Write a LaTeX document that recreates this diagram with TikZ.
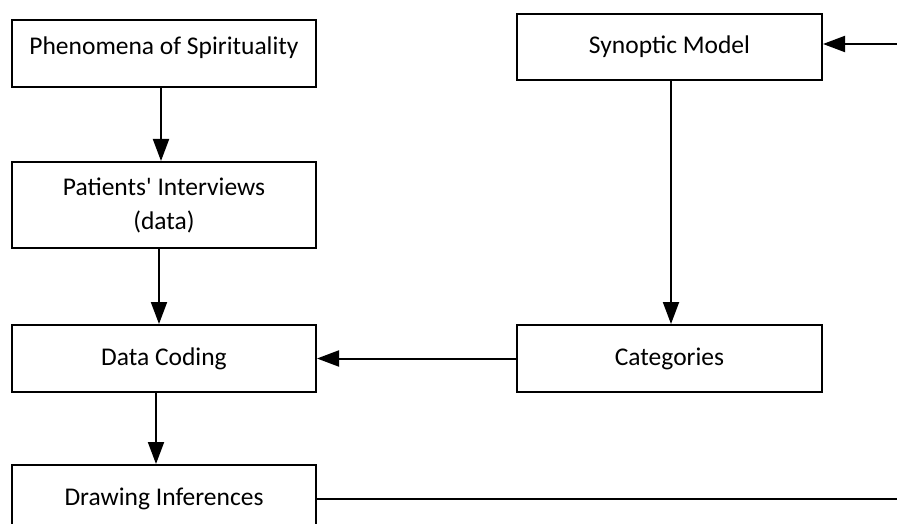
\documentclass[tikz,border=0pt]{standalone}
\usepackage{fontspec}
\setmainfont{Carlito}[Ligatures=TeXOff]
\usetikzlibrary{arrows.meta}
\begin{document}
\begin{tikzpicture}[x=1pt,y=-1pt,
  box/.style={draw, line width=2pt, rectangle, inner sep=0pt,
    minimum width=304pt, minimum height=67pt},
  boxtext/.style={font=\fontsize{25.5}{34}\selectfont, align=center, inner sep=0pt},
  flow/.style={line width=2pt, -{Triangle[length=22pt,width=16pt]}},
  plain/.style={line width=2pt}]
\useasboundingbox (0,0) rectangle (897,524);
\clip (0,0) rectangle (897,524);

% left column
\node[box] (phen) at (164,53.5) {};
\node[boxtext] (phent) at (164,48) {Phenomena of Spirituality};
\node[box, boxtext, minimum height=86pt] (pat) at (164,205) {Patients' Interviews\\(data)};
\node[box, boxtext] (dc) at (164,358.5) {Data Coding};
\node[box, boxtext] (di) at (164,498.5) {Drawing Inferences};

% right column
\node[box, boxtext, minimum width=305pt, minimum height=66pt] (syn) at (669.5,47) {Synoptic Model};
\node[box, boxtext, minimum width=305pt] (cat) at (669.5,358.5) {Categories};

% loose ends at the right margin
\coordinate (loopin) at (897,44);
\coordinate (loopout) at (897,499);

% connectors
\draw[flow] ([xshift=-3pt]phen.south) -- ([xshift=-3pt]pat.north);
\draw[flow] ([xshift=-5pt]pat.south) -- ([xshift=-5pt]dc.north);
\draw[flow] ([xshift=-8pt]dc.south) -- ([xshift=-8pt]di.north);
\draw[flow] ([xshift=1.5pt]syn.south) -- ([xshift=1.5pt]cat.north);
\draw[flow] (cat.west) -- (dc.east);
\draw[flow] (loopin) -- (syn.east |- loopin);
\draw[plain] (di.east |- loopout) -- (loopout);
\end{tikzpicture}
\end{document}
